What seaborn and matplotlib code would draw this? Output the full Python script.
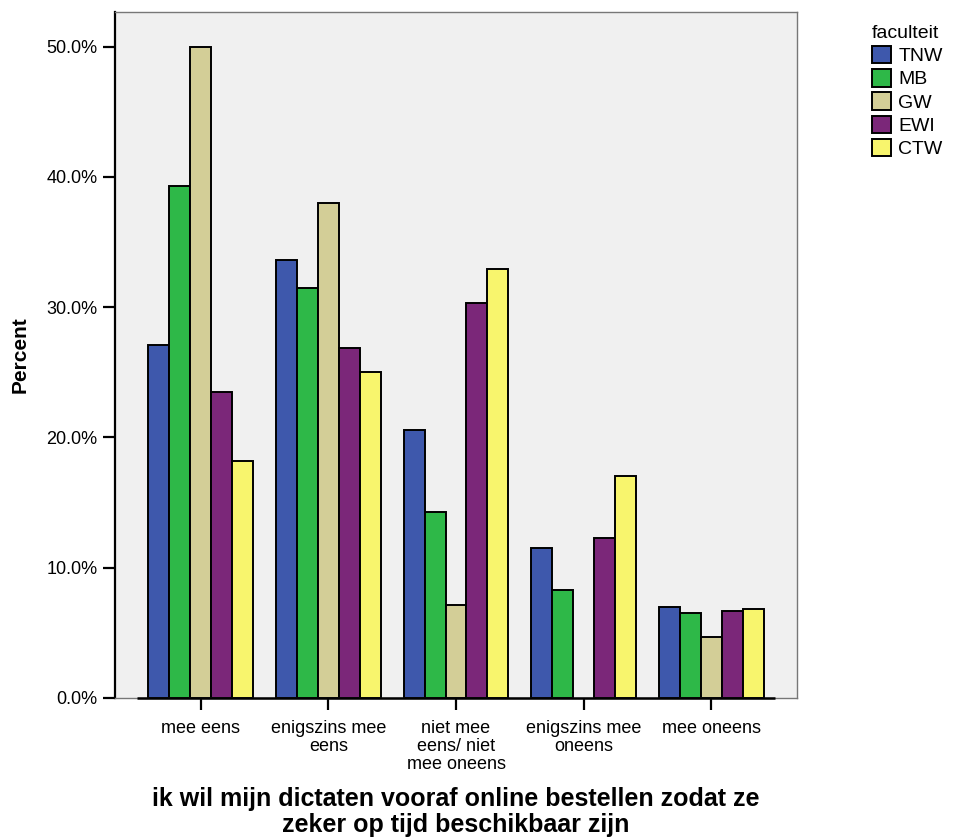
import seaborn as sns
import matplotlib.pyplot as plt
import numpy as np
import pandas as pd

# answer categories and faculty groups
categories = ["mee eens", "enigszins mee eens", "niet mee eens/ niet mee oneens",
              "enigszins mee oneens", "mee oneens"]
tick_labels = ["mee eens", "enigszins mee\neens", "niet mee\neens/ niet\nmee oneens",
               "enigszins mee\noneens", "mee oneens"]
faculties = ["TNW", "MB", "GW", "EWI", "CTW"]

# percent per faculty
tnw = [27.1, 33.6, 20.6, 11.5, 7.0]
mb = [39.3, 31.5, 14.3, 8.3, 6.5]
gw = [50.0, 38.0, 7.1, np.nan, 4.7]
ewi = [23.5, 26.9, 30.3, 12.3, 6.7]
ctw = [18.2, 25.0, 32.9, 17.0, 6.8]

colors = ["#3e58ac", "#2eb848", "#d3ce97", "#7b2779", "#f8f56d"]

rows = []
for fac, vals in zip(faculties, [tnw, mb, gw, ewi, ctw]):
    for cat, v in zip(categories, vals):
        rows.append({"antwoord": cat, "faculteit": fac, "Percent": v})
df = pd.DataFrame(rows).dropna()

sns.set_theme(style="white", rc={"text.color": "black", "axes.labelcolor": "black",
                                 "xtick.color": "black", "ytick.color": "black"})
plt.rcParams['font.family'] = ['Liberation Sans', 'DejaVu Sans']

fig = plt.figure(figsize=(9.71, 8.39), dpi=100)
ax = fig.add_axes([115 / 971, 1 - 698 / 839, 682 / 971, 686 / 839])
ax.set_facecolor("#f0f0f0")

sns.barplot(data=df, x="antwoord", y="Percent", hue="faculteit",
            order=categories, hue_order=faculties, palette=colors, saturation=1,
            width=0.82, edgecolor="black", linewidth=1.4, ax=ax)

ax.set_xlim(-0.67, 4.67)
ax.set_ylim(0, 52.65)
ax.set_yticks([0, 10, 20, 30, 40, 50])
ax.set_yticklabels([f"{t:.1f}%" for t in [0, 10, 20, 30, 40, 50]], fontsize=13)
ax.set_xticks(range(len(categories)))
ax.set_xticklabels(tick_labels, fontsize=13, linespacing=1.1)
ax.tick_params(axis="both", direction="out", length=8.5, width=1.6,
               bottom=True, left=True)
ax.tick_params(axis="x", pad=7)
ax.tick_params(axis="y", pad=4)

for s in ["top", "right", "bottom"]:
    ax.spines[s].set_color("#777777")
    ax.spines[s].set_linewidth(1)
ax.spines["left"].set_color("black")
ax.spines["left"].set_linewidth(1.6)
ax.hlines(0, -0.5, 4.5, color="black", linewidth=1.8, zorder=5, clip_on=False)

ax.set_xlabel("ik wil mijn dictaten vooraf online bestellen zodat ze\nzeker op tijd beschikbaar zijn",
              fontsize=18, fontweight="bold", labelpad=10, linespacing=1.1)
ax.set_ylabel("Percent", fontsize=15, fontweight="bold", labelpad=12)

sns.move_legend(ax, "upper left", bbox_to_anchor=(872 / 971, 1 - 25 / 839),
                bbox_transform=fig.transFigure, frameon=False, title="faculteit",
                fontsize=14, title_fontsize=14, handlelength=1.0, handleheight=1.0,
                handletextpad=0.35, labelspacing=0.2, borderaxespad=0, borderpad=0,
                alignment="left")

plt.savefig("out.png", dpi=100)
